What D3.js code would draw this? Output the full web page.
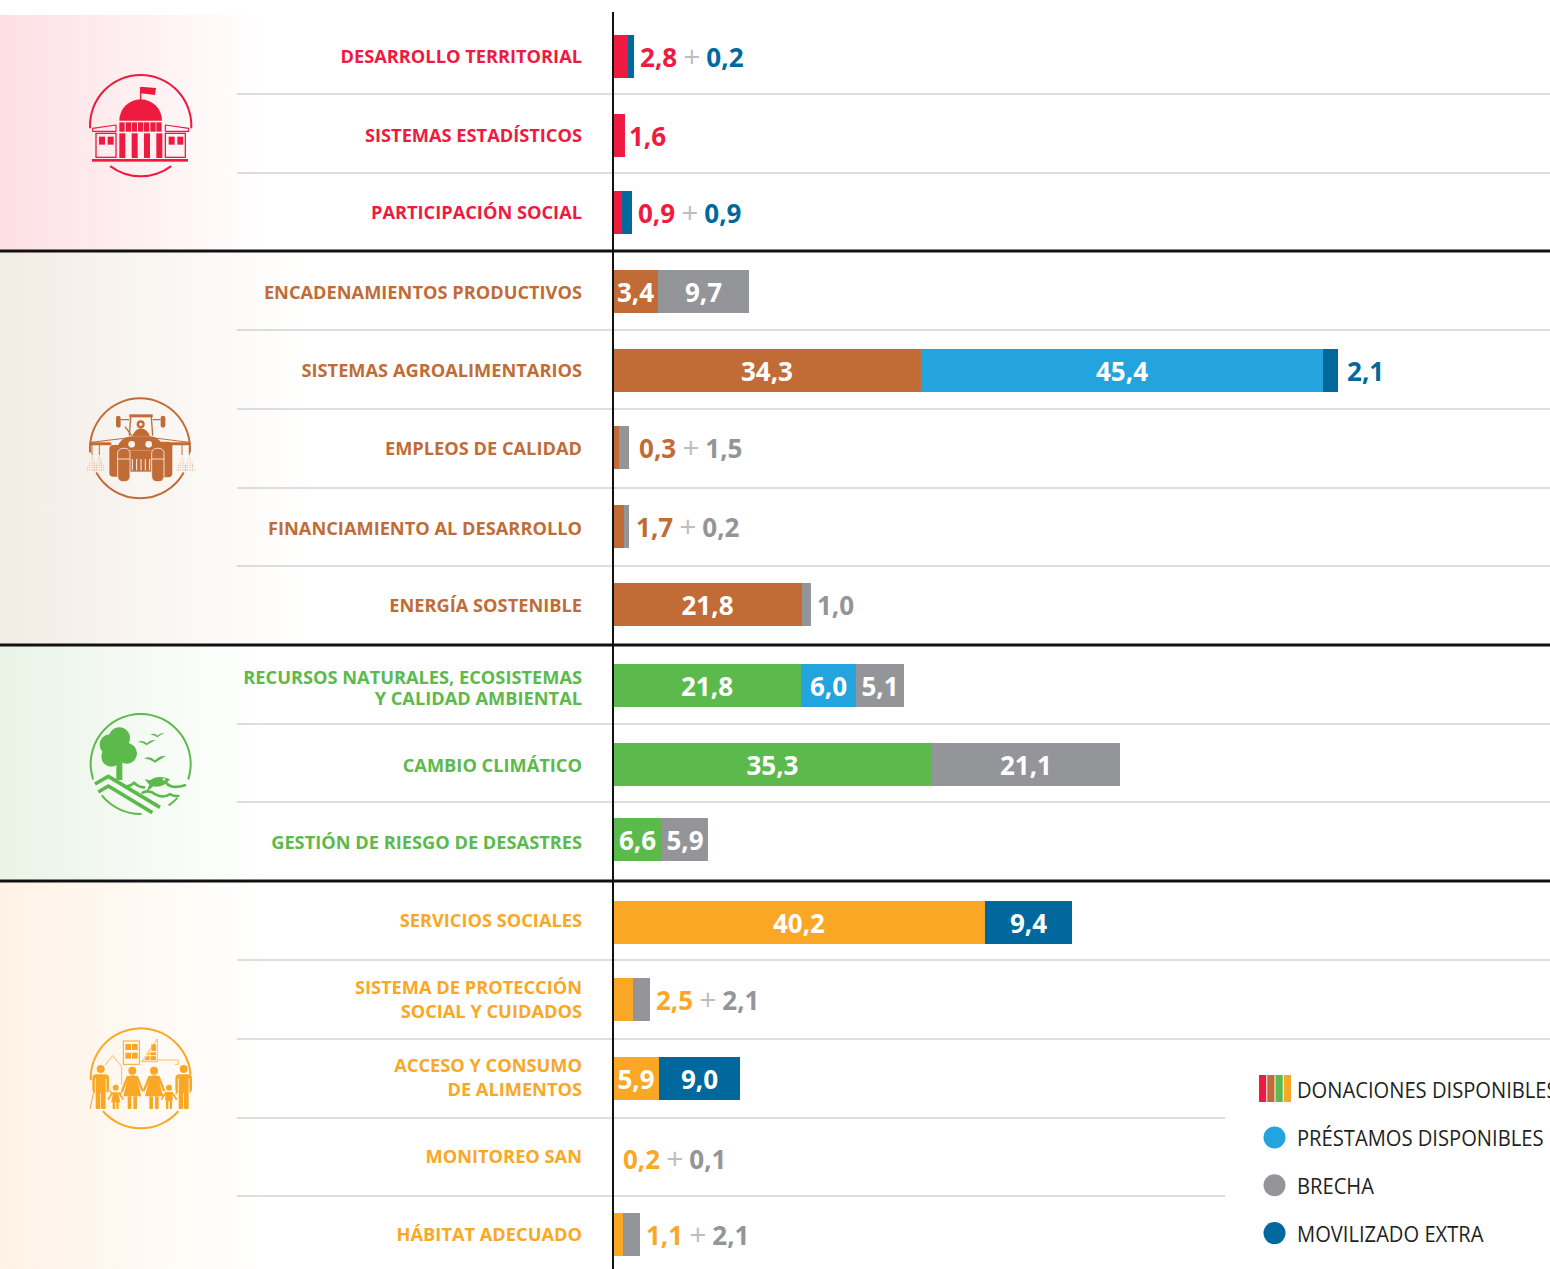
<!DOCTYPE html>
<html><head><meta charset="utf-8">
<script src="https://cdnjs.cloudflare.com/ajax/libs/d3/7.8.5/d3.min.js"></script>
<style>html,body{margin:0;padding:0;background:#fff;overflow:hidden}svg{display:block}text{font-family:"Open Sans",sans-serif}</style>
</head><body><svg id="c" width="1550" height="1269"></svg>
<script>
// ---------- data ----------
const categories = ["DESARROLLO TERRITORIAL","SISTEMAS ESTADÍSTICOS","PARTICIPACIÓN SOCIAL","ENCADENAMIENTOS PRODUCTIVOS","SISTEMAS AGROALIMENTARIOS","EMPLEOS DE CALIDAD","FINANCIAMIENTO AL DESARROLLO","ENERGÍA SOSTENIBLE","RECURSOS NATURALES, ECOSISTEMAS|Y CALIDAD AMBIENTAL","CAMBIO CLIMÁTICO","GESTIÓN DE RIESGO DE DESASTRES","SERVICIOS SOCIALES","SISTEMA DE PROTECCIÓN|SOCIAL Y CUIDADOS","ACCESO Y CONSUMO|DE ALIMENTOS","MONITOREO SAN","HÁBITAT ADECUADO"];
const groupOfRow = [0,0,0,1,1,1,1,1,2,2,2,3,3,3,3,3];
const groupColors = ["#EF1A3F","#C16C37","#5BBA4B","#FBA726"];
// bar lengths as drawn in the picture (short bars are not drawn to the printed value)
const donaciones = [1.67,1.33,1.0,5.0,34.22,0.67,1.22,21.0,20.89,35.44,5.44,41.33,2.22,5.11,0,1.11];
const prestamos  = [0,0,0,0,44.67,0,0,0,6.11,0,0,0,0,0,0,0];
const brecha     = [0,0,0,10.11,0,1.11,0.56,1.0,5.33,20.89,5.11,0,1.89,0,0,1.89];
const extra      = [0.67,0,1.11,0,1.67,0,0,0,0,0,0,9.67,0,9.0,0,0];
// printed values
const donacionesLabels = ["2,8","1,6","0,9","3,4","34,3","0,3","1,7","21,8","21,8","35,3","6,6","40,2","2,5","5,9","0,2","1,1"];
const prestamosLabels  = ["","","","","45,4","","","","6,0","","","","","","",""];
const brechaLabels     = ["","","","9,7","","1,5","0,2","1,0","5,1","21,1","5,9","","2,1","","0,1","2,1"];
const extraLabels      = ["0,2","","0,9","","2,1","","","","","","","9,4","","9,0","",""];
const legendLabels = ["DONACIONES DISPONIBLES","PRÉSTAMOS DISPONIBLES","BRECHA","MOVILIZADO EXTRA"];

// ---------- layout ----------
const C = {pres:"#23A4DE",gap:"#939598",extra:"#00689D",plus:"#BCBEC0",rule:"#BCBEC0",black:"#111"};
const svg = d3.select("#c");
const defs = svg.append("defs");
const x0 = 613;
const x = d3.scaleLinear().domain([0,100]).range([x0,x0+900]);
const rows = d3.range(categories.length);
const rowNudge = [0,.5,-1,-.5,0,-1.5,-1,-1.5,1,1.5,-2,2.5,1,1.5,3,.5];
const barBand = d3.scaleBand().domain(rows).range([35,35+78.5*rows.length]);
const barTop = i => barBand(i) + rowNudge[i];
const barH = 43;
const labelBase = [63,142,219,299,377,455,535,612,684,772,849,927,994,1072,1163,1241];
const outGap = [6,4,6,0,9,10,7,6,0,0,0,0,6,0,10,6];
const labelScale = 0.98;

// group bands
const bands = [[15,250,265],[252,644,310],[646,880,265],[882,1269,265]];
const bandTint = ["#FDDFE3","#F3ECE4","#E9F4E6","#FEF2E5"];
bands.forEach((b,i)=>{
  const g = defs.append("linearGradient").attr("id","g"+i).attr("gradientUnits","userSpaceOnUse")
    .attr("x1",0).attr("x2",b[2]).attr("y1",0).attr("y2",0);
  g.append("stop").attr("offset",0).attr("stop-color",bandTint[i]);
  g.append("stop").attr("offset",1).attr("stop-color","#fff");
  svg.append("rect").attr("x",0).attr("y",b[0]).attr("width",b[2]).attr("height",b[1]-b[0]).attr("fill",`url(#g${i})`);
});

// rules
[[94,1550],[173,1550],[330,1550],[409,1550],[488,1550],[566,1550],[724,1550],[802,1550],[960,1550],[1039,1550],[1118,1225],[1196,1225]]
 .forEach(r=>svg.append("line").attr("x1",237).attr("x2",r[1]).attr("y1",r[0]).attr("y2",r[0]).attr("stroke",C.rule).attr("stroke-width",1.2));
[251,645,881].forEach(v=>svg.append("line").attr("x1",0).attr("x2",1550).attr("y1",v).attr("y2",v).attr("stroke",C.black).attr("stroke-width",3));

// stacked bars
const table = rows.map(i=>({i,don:donaciones[i],pre:prestamos[i],bre:brecha[i],ext:extra[i]}));
const keys = ["don","pre","bre","ext"];
const labelsBy = {don:donacionesLabels,pre:prestamosLabels,bre:brechaLabels,ext:extraLabels};
const stack = d3.stack().keys(keys)(table);
const colorOf = (k,i)=> k==="don"?groupColors[groupOfRow[i]]:k==="pre"?C.pres:k==="bre"?C.gap:C.extra;

stack.forEach(layer=>{
  svg.append("g").selectAll("rect").data(layer.filter(d=>d[1]>d[0])).join("rect")
    .attr("x",d=>x(d[0])).attr("y",d=>barTop(d.data.i))
    .attr("width",d=>x(d[1])-x(d[0])).attr("height",barH)
    .attr("fill",d=>colorOf(layer.key,d.data.i));
});

// axis line
svg.append("line").attr("x1",x0).attr("x2",x0).attr("y1",12).attr("y2",1269).attr("stroke",C.black).attr("stroke-width",2);

// value labels
const valueSize = 26;
rows.forEach(i=>{
  const base = barTop(i)+32;
  const outside = [];
  let end = x0;
  stack.forEach(layer=>{
    const d = layer[i], k = layer.key, lab = labelsBy[k][i];
    if(d[1]>d[0]) end = x(d[1]);
    if(!lab) return;
    if(x(d[1])-x(d[0])>30){
      svg.append("text").attr("x",(x(d[0])+x(d[1]))/2).attr("y",base).attr("text-anchor","middle")
        .attr("font-size",valueSize).attr("font-weight",700).attr("fill","#fff").text(lab);
    } else outside.push({lab,col:colorOf(k,i)});
  });
  if(outside.length){
    const t = svg.append("text").attr("x",end+outGap[i]).attr("y",base).attr("font-size",valueSize).attr("font-weight",700);
    outside.forEach((o,n)=>{
      if(n) t.append("tspan").attr("fill",C.plus).attr("font-weight",400).attr("dx",6).attr("font-size",30).text("+");
      t.append("tspan").attr("fill",o.col).attr("dx",n?6:0).text(o.lab);
    });
  }
});

// category labels
rows.forEach(i=>{
  const col = groupColors[groupOfRow[i]];
  const lines = categories[i].split("|");
  const step = i===8?21:24;
  lines.forEach((ln,n)=>{
    svg.append("text").attr("transform",`translate(582,${labelBase[i]+n*step}) scale(${labelScale},1)`)
      .attr("text-anchor","end").attr("font-size",18.6).attr("font-weight",700).attr("fill",col).text(ln);
  });
});

// legend
const legScale = 0.96;
const legBase = [1098,1146,1194,1242];
legendLabels.forEach((l,i)=>{
  svg.append("text").attr("transform",`translate(1297,${legBase[i]}) scale(${legScale},1)`)
    .attr("font-size",21).attr("fill","#231F20").text(l);
});
const sw = d3.scaleBand().domain(d3.range(4)).range([1259,1291]).paddingInner(.12);
groupColors.forEach((c,i)=>svg.append("rect").attr("x",sw(i)).attr("y",1075).attr("width",sw.bandwidth()).attr("height",27).attr("fill",c));
[C.pres,C.gap,C.extra].forEach((c,i)=>svg.append("circle").attr("cx",1274.5).attr("cy",1137.5+i*47.8).attr("r",11).attr("fill",c));

// ---------- icons (drawn in a 420×390 box at 1/3 scale) ----------
function icon(ox,oy,col){ 
  const g = svg.append("g").attr("transform",`translate(${ox},${oy}) scale(${1/3})`);
  const rad = d3.arc();
  return {g,
    ring:(cx,cy,r,a0,a1,w=6)=>g.append("path").attr("transform",`translate(${cx},${cy})`).attr("fill",col)
      .attr("d",rad({innerRadius:r-w/2,outerRadius:r+w/2,startAngle:a0*Math.PI/180,endAngle:a1*Math.PI/180})),
    p:(d,o={})=>{const e=g.append("path").attr("d",d).attr("fill",o.fill||"none").attr("stroke",o.stroke||"none").attr("stroke-width",o.w||0).attr("stroke-linecap",o.cap||"butt").attr("stroke-linejoin","round");if(o.op)e.attr("opacity",o.op);return e;},
    r:(a,b,w,h,o={})=>g.append("rect").attr("x",a).attr("y",b).attr("width",w).attr("height",h).attr("rx",o.rx||0).attr("fill",o.fill||col).attr("stroke",o.stroke||"none").attr("stroke-width",o.w||0),
    c:(a,b,r,o={})=>g.append("circle").attr("cx",a).attr("cy",b).attr("r",r).attr("fill",o.fill||col).attr("stroke",o.stroke||"none").attr("stroke-width",o.w||0)};
}
// Building
(function(){
  const c=groupColors[0], I=icon(70,60,c);
  I.ring(212,197,152,-93,93); I.ring(212,197,152,143,217);
  I.p("M212,120 L212,82",{stroke:c,w:4});
  I.p("M212,80 L258,84 L255,105 L212,100 Z",{fill:c});
  I.p("M148,182 A64,64 0 0 1 276,182 Z",{fill:c});
  [148,167,185,204,222,241,259].forEach(v=>I.r(v,187,16,28));
  [148,185,222,259].forEach(v=>I.r(v,220,18,74));
  I.p("M68,205 L138,195 L138,214 L68,214 Z",{stroke:c,w:3.5});
  I.p("M356,205 L286,195 L286,214 L356,214 Z",{stroke:c,w:3.5});
  I.r(78,220,60,72,{fill:"none",stroke:c,w:4});
  I.r(286,220,60,72,{fill:"none",stroke:c,w:4});
  [87,113,296,322].forEach(v=>I.r(v,230,18,24));
  I.r(66,297,288,8);
})();
// Tractor
(function(){
  const c=groupColors[1], I=icon(70,385,c), bg="#FBF4F0";
  const pat=defs.append("pattern").attr("id","dots").attr("width",7).attr("height",7).attr("patternUnits","userSpaceOnUse");
  pat.append("circle").attr("cx",3).attr("cy",3).attr("r",1.6).attr("fill",c).attr("opacity",.65);
  I.ring(210,190,150,-95,95); I.ring(210,190,150,119,241);
  I.p("M62,176 L120,176 M305,176 L358,176",{stroke:c,w:9,cap:"round"});
  I.p("M62,172 L180,158 M358,172 L245,158",{stroke:c,w:3});
  [[66,48,85],[88,70,108],[336,318,354],[358,340,376]].forEach(t=>{
    I.p(`M${t[0]},180 L${t[0]},210`,{stroke:c,w:3});
    I.p(`M${t[0]},208 L${t[1]},258 L${t[2]},258 Z`,{fill:"url(#dots)"});
  });
  I.r(118,180,60,95,{rx:12});
  I.r(245,170,62,107,{rx:12});
  I.r(178,88,70,9);
  I.p("M182,96 L178,152 M244,96 L248,152",{stroke:c,w:4});
  I.r(138,92,14,36,{rx:7}); I.r(272,92,14,36,{rx:7});
  I.p("M152,104 L178,104 M248,104 L272,104",{stroke:c,w:4});
  I.p("M165,125 L185,152",{stroke:c,w:4});
  I.c(212,118,12); I.c(212,118,5,{fill:bg});
  I.p("M186,154 Q196,132 212,130 Q232,132 240,154 Z",{fill:c});
  I.p("M140,196 Q146,158 186,154 L240,154 Q276,158 282,196 Z",{fill:c});
  I.c(185,178,10,{fill:bg}); I.c(236,178,10,{fill:bg});
  I.r(172,196,78,64);
  [187,200,213,226,239].forEach(v=>I.r(v-1.5,222,3,34,{fill:bg}));
  I.r(143,190,37,100,{rx:15,stroke:bg,w:2.5});
  I.r(245,190,37,100,{rx:15,stroke:bg,w:2.5});
  I.p("M143,222 L180,222 M245,222 L282,222",{stroke:bg,w:2.5});
})();
// Nature
(function(){
  const c=groupColors[2], I=icon(70,700,c);
  I.ring(212,192,150,-108,108); I.ring(212,192,150,179,231); I.ring(212,192,150,133,146);
  [[148,114,32],[120,134,31],[170,160,31],[124,170,30],[150,150,34]].forEach(t=>I.c(t[0],t[1],t[2]));
  I.r(139,185,18,55);
  const bird=(a,b,k)=>I.p(`M${a},${b} Q${a+14*k},${b-8*k} ${a+26*k},${b+4*k} Q${a+38*k},${b-8*k} ${a+52*k},${b-6*k} Q${a+38*k},${b+2*k} ${a+26*k},${b+10*k} Q${a+14*k},${b} ${a},${b} Z`,{fill:c});
  bird(204,126,1); bird(242,104,.78); bird(222,176,1.25);
  I.p("M236,244 Q262,222 300,238 Q276,268 244,258 Z",{fill:c});
  I.p("M248,242 L224,238 L238,254 L230,272 Q248,266 252,252 Z",{fill:c});
  I.c(282,238,3.5,{fill:"#F3FAF2"});
  I.p("M75,252 L115,229 L270,322",{stroke:c,w:11});
  I.p("M85,276 L115,258 L247,338",{stroke:c,w:11});
  I.p("M160,258 Q180,262 192,248 Q205,262 222,262 M290,250 Q305,268 345,256",{stroke:c,w:8,cap:"round"});
  I.p("M218,278 Q238,268 258,284 Q280,296 300,282 Q312,290 325,288",{stroke:c,w:8,cap:"round"});
})();
// Family
(function(){
  const c=groupColors[3], I=icon(70,1015,c), lt={stroke:c,w:3,op:.75}, bg="#FFF7EC";
  I.ring(212,190,150,-92,86); I.ring(212,190,150,131,229);
  I.r(160,78,48,70,{fill:"none",stroke:c,w:3});
  [[166,87],[186,87],[166,113],[186,113]].forEach(t=>I.r(t[0],t[1],17,18));
  I.p("M105,150 L128,122 L155,155 L155,210",lt);
  I.p("M215,140 L262,72 L262,140 Z",lt);
  I.p("M222,136 L238,112 L258,112 L258,136 Z M244,88 L258,88 L258,108 L244,108 Z",{fill:c});
  I.p("M222,122 L258,122 M240,112 L240,136",{stroke:bg,w:3});
  I.p("M262,135 L325,135 L325,148 L315,148",lt);
  const man=(a)=>{ I.c(a,162,12);
    I.r(a-25,178,50,56,{rx:12});
    I.r(a-15,200,14,82,{rx:3}); I.r(a+1,200,14,82,{rx:3});
    I.p(`M${a-16},190 L${a-16},234 M${a+16},190 L${a+16},234`,{stroke:bg,w:2.5});};
  man(92); man(341);
  I.p("M72,226 L60,282",{stroke:c,w:3});
  const woman=(a)=>{ I.c(a,167,12);
    I.p(`M${a-12},184 Q${a},178 ${a+12},184 L${a+27},244 L${a-27},244 Z`,{fill:c});
    I.p(`M${a-14},186 L${a-30},226 M${a+14},186 L${a+30},226`,{stroke:c,w:7,cap:"round"});
    I.r(a-14,244,11,38,{rx:2}); I.r(a+3,244,11,38,{rx:2});};
  woman(187); woman(252);
  const kid=(a,dress)=>{ I.c(a,218,9);
    if(dress) I.p(`M${a-7},232 L${a+7},232 L${a+14},262 L${a-14},262 Z`,{fill:c});
    else I.r(a-11,231,22,28,{rx:4});
    I.r(a-9,258,7,24); I.r(a+2,258,7,24);
    I.p(`M${a-10},234 L${a-22},252 M${a+10},234 L${a+22},252`,{stroke:c,w:5,cap:"round"});};
  kid(137,true); kid(297,false);
  I.p("M118,226 L128,238 M148,240 L160,226 M278,240 L268,226 M318,238 L320,226",{stroke:c,w:4});
})();
</script></body></html>
